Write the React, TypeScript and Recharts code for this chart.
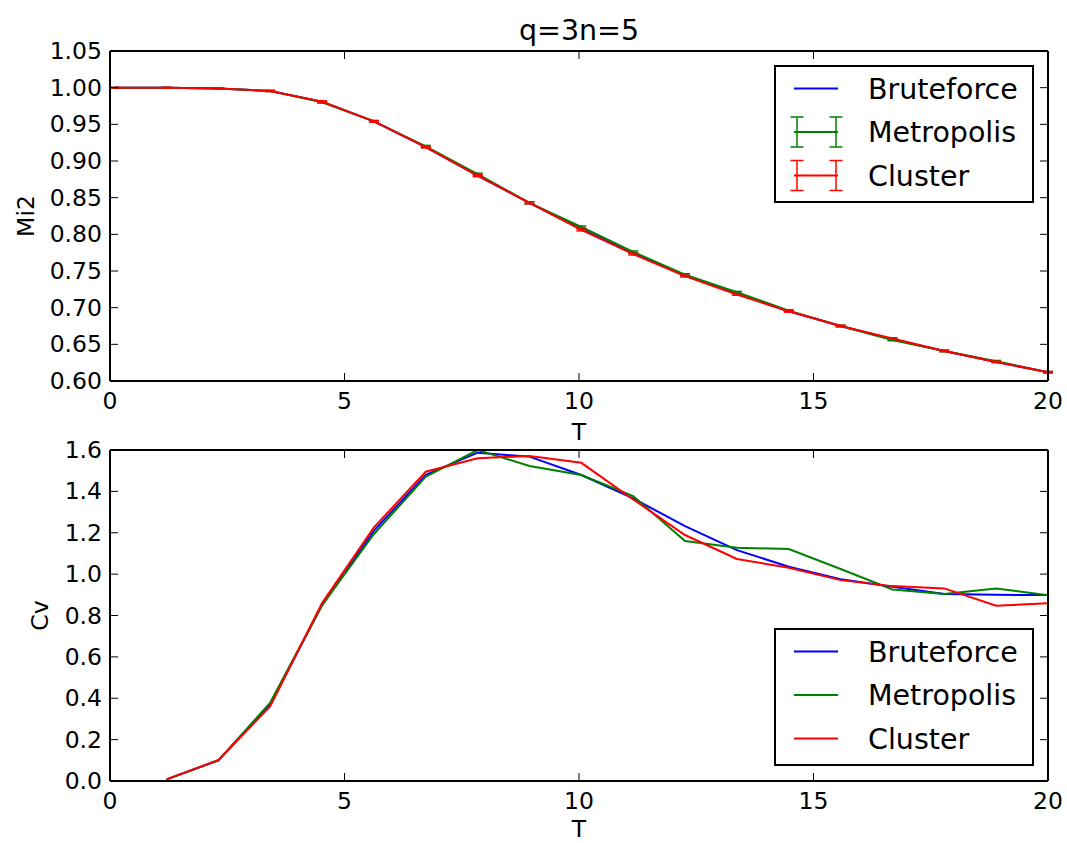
import { LineChart, Line, XAxis, YAxis, ErrorBar, Legend, Label } from "recharts";

const FONT = '"DejaVu Sans", sans-serif';

// temperature grid shared by both panels
const temperatures = [
  0.1, 1.206, 2.311, 3.417, 4.522, 5.628, 6.733, 7.839, 8.944, 10.05, 11.156, 12.261, 13.367, 14.472, 15.578,
  16.683, 17.789, 18.894, 20.0,
];

const mi2Bruteforce = [
  1.0, 1.0, 0.999, 0.9955, 0.981, 0.954, 0.919, 0.88, 0.843, 0.807, 0.774, 0.744, 0.719, 0.695, 0.675, 0.657,
  0.641, 0.626, 0.612,
];
const mi2Metropolis = [
  1.0, 1.0, 0.999, 0.9955, 0.98, 0.954, 0.92, 0.882, 0.843, 0.81, 0.776, 0.745, 0.721, 0.696, 0.675, 0.656,
  0.641, 0.627, 0.612,
];
const mi2MetropolisErr = [
  0.0003, 0.0004, 0.0006, 0.0008, 0.001, 0.0012, 0.0013, 0.0014, 0.0014, 0.0014, 0.0013, 0.0013, 0.0012, 0.0012,
  0.0011, 0.0011, 0.001, 0.001, 0.001,
];
const mi2Cluster = [
  1.0, 1.0, 0.999, 0.9955, 0.981, 0.954, 0.919, 0.88, 0.843, 0.806, 0.773, 0.743, 0.718, 0.695, 0.675, 0.658,
  0.641, 0.626, 0.612,
];
const mi2ClusterErr = [
  0.0003, 0.0004, 0.0006, 0.0008, 0.001, 0.0011, 0.0012, 0.0013, 0.0013, 0.0013, 0.0012, 0.0012, 0.0011, 0.0011,
  0.001, 0.001, 0.001, 0.0009, 0.0009,
];

const cvBruteforce = [
  null, 0.008, 0.1, 0.37, 0.85, 1.21, 1.48, 1.587, 1.568, 1.479, 1.366, 1.232, 1.116, 1.036, 0.975, 0.939, 0.904,
  0.9, 0.899,
];
const cvMetropolis = [
  null, 0.008, 0.1, 0.379, 0.85, 1.194, 1.471, 1.6, 1.523, 1.479, 1.377, 1.16, 1.128, 1.121, 1.025, 0.926, 0.904,
  0.931, 0.898,
];
const cvCluster = [
  null, 0.008, 0.101, 0.362, 0.86, 1.226, 1.495, 1.56, 1.571, 1.538, 1.361, 1.189, 1.073, 1.031, 0.971, 0.942,
  0.931, 0.847, 0.859,
];

const tTicks = [0, 5, 10, 15, 20];
const mi2Ticks = [0.6, 0.65, 0.7, 0.75, 0.8, 0.85, 0.9, 0.95, 1.0, 1.05];
const cvTicks = [0, 0.2, 0.4, 0.6, 0.8, 1.0, 1.2, 1.4, 1.6];

const seriesNames = ["Bruteforce", "Metropolis", "Cluster"];
const seriesColors = ["#0000ff", "#008000", "#ff0000"];

const mi2Rows = temperatures.map((T, i) => ({
  T,
  brute: mi2Bruteforce[i],
  metro: mi2Metropolis[i],
  metroErr: mi2MetropolisErr[i],
  cluster: mi2Cluster[i],
  clusterErr: mi2ClusterErr[i],
}));

const cvRows = temperatures.map((T, i) => ({
  T,
  brute: cvBruteforce[i],
  metro: cvMetropolis[i],
  cluster: cvCluster[i],
}));

// matplotlib-style ticks: marks point into the axes, labels sit outside
function BottomTick({ x, y, payload }: any) {
  return (
    <g>
      <line x1={x} x2={x} y1={y} y2={y - 8} stroke="#000" strokeWidth={1} />
      <text x={x} y={y + 28} textAnchor="middle" fontSize={23.5} fontFamily={FONT} fill="#000">
        {payload.value}
      </text>
    </g>
  );
}

function TopTick({ x, y }: any) {
  return <line x1={x} x2={x} y1={y} y2={y + 8} stroke="#000" strokeWidth={1} />;
}

function LeftTick({ x, y, payload, decimals }: any) {
  return (
    <g>
      <line x1={x} x2={x + 8} y1={y} y2={y} stroke="#000" strokeWidth={1} />
      <text x={x - 8} y={y + 8} textAnchor="end" fontSize={23.5} fontFamily={FONT} fill="#000">
        {Number(payload.value).toFixed(decimals)}
      </text>
    </g>
  );
}

function RightTick({ x, y }: any) {
  return <line x1={x} x2={x - 8} y1={y} y2={y} stroke="#000" strokeWidth={1} />;
}

const xTitle =
  (text: string, drop: number) =>
  ({ viewBox }: any) =>
    (
      <text
        x={viewBox.x + viewBox.width / 2}
        y={viewBox.y + drop}
        textAnchor="middle"
        fontSize={23.5}
        fontFamily={FONT}
        fill="#000"
      >
        {text}
      </text>
    );

const yTitle =
  (text: string, gap: number) =>
  ({ viewBox }: any) => {
    const bx = viewBox.x - gap;
    const cy = viewBox.y + viewBox.height / 2;
    return (
      <text
        x={bx}
        y={cy}
        transform={`rotate(-90, ${bx}, ${cy})`}
        textAnchor="middle"
        fontSize={23.5}
        fontFamily={FONT}
        fill="#000"
      >
        {text}
      </text>
    );
  };

const plotTitle =
  (text: string) =>
  ({ viewBox }: any) =>
    (
      <text
        x={viewBox.x + viewBox.width / 2}
        y={viewBox.y - 10}
        textAnchor="middle"
        fontSize={28.5}
        fontFamily={FONT}
        fill="#000"
      >
        {text}
      </text>
    );

function LegendBox({ errorbars }: { errorbars: boolean }) {
  return (
    <svg width={260} height={138} style={{ display: "block" }}>
      <rect x={1} y={1} width={258} height={136} fill="#fff" stroke="#000" strokeWidth={2} />
      {seriesNames.map((name, i) => {
        const cy = 23.5 + i * 43.5;
        const c = seriesColors[i];
        const withBars = errorbars && i > 0;
        return (
          <g key={name}>
            <line x1={20} x2={64} y1={cy} y2={cy} stroke={c} strokeWidth={2} />
            {withBars &&
              [23, 62].map((bx) => (
                <g key={bx} stroke={c} strokeWidth={1.5}>
                  <line x1={bx} x2={bx} y1={cy - 15} y2={cy + 15} />
                  <line x1={bx - 6.5} x2={bx + 6.5} y1={cy - 15} y2={cy - 15} />
                  <line x1={bx - 6.5} x2={bx + 6.5} y1={cy + 15} y2={cy + 15} />
                </g>
              ))}
            <text x={94} y={cy + 10} fontSize={28.5} fontFamily={FONT} fill="#000">
              {name}
            </text>
          </g>
        );
      })}
    </svg>
  );
}

const frame = { stroke: "#000", strokeWidth: 2 };

const lineProps = {
  strokeWidth: 2,
  dot: false,
  activeDot: false,
  isAnimationActive: false,
} as const;

export default function App() {
  return (
    <div
      style={{
        position: "absolute",
        left: 0,
        top: 0,
        width: 1067,
        height: 843,
        background: "#fff",
        fontFamily: FONT,
      }}
    >
      <div style={{ position: "absolute", left: 0, top: 0 }}>
        <LineChart width={1067} height={445} data={mi2Rows} margin={{ top: 50, right: 18, bottom: 34, left: 50 }}>
          <XAxis
            dataKey="T"
            type="number"
            domain={[0, 20]}
            ticks={tTicks}
            allowDataOverflow
            height={30}
            tickSize={0}
            tickMargin={0}
            tickLine={false}
            axisLine={frame}
            tick={<BottomTick />}
          >
            <Label content={xTitle("T", 59)} />
          </XAxis>
          <XAxis
            xAxisId="top"
            dataKey="T"
            orientation="top"
            type="number"
            domain={[0, 20]}
            ticks={tTicks}
            allowDataOverflow
            height={1}
            tickSize={0}
            tickMargin={0}
            tickLine={false}
            axisLine={frame}
            tick={<TopTick />}
          >
            <Label content={plotTitle("q=3n=5")} />
          </XAxis>
          <YAxis
            type="number"
            domain={[0.6, 1.05]}
            ticks={mi2Ticks}
            allowDataOverflow
            width={60}
            tickSize={0}
            tickMargin={0}
            tickLine={false}
            axisLine={frame}
            tick={<LeftTick decimals={2} />}
          >
            <Label content={yTitle("Mi2", 16)} />
          </YAxis>
          <YAxis
            yAxisId="right"
            dataKey="brute"
            orientation="right"
            type="number"
            domain={[0.6, 1.05]}
            ticks={mi2Ticks}
            allowDataOverflow
            width={1}
            tickSize={0}
            tickMargin={0}
            tickLine={false}
            axisLine={frame}
            tick={<RightTick />}
          />
          <Line dataKey="brute" name="Bruteforce" stroke={seriesColors[0]} {...lineProps} />
          <Line dataKey="metro" name="Metropolis" stroke={seriesColors[1]} {...lineProps}>
            <ErrorBar
              dataKey="metroErr"
              direction="y"
              width={5}
              stroke={seriesColors[1]}
              strokeWidth={1.5}
              isAnimationActive={false}
            />
          </Line>
          <Line dataKey="cluster" name="Cluster" stroke={seriesColors[2]} {...lineProps}>
            <ErrorBar
              dataKey="clusterErr"
              direction="y"
              width={5}
              stroke={seriesColors[2]}
              strokeWidth={1.5}
              isAnimationActive={false}
            />
          </Line>
          <Legend
            layout="horizontal"
            verticalAlign="middle"
            align="center"
            wrapperStyle={{ top: 65, left: 774, width: 260, height: 138 }}
            content={() => <LegendBox errorbars />}
          />
        </LineChart>
      </div>

      <div style={{ position: "absolute", left: 0, top: 430 }}>
        <LineChart width={1067} height={413} data={cvRows} margin={{ top: 19, right: 18, bottom: 32, left: 50 }}>
          <XAxis
            dataKey="T"
            type="number"
            domain={[0, 20]}
            ticks={tTicks}
            allowDataOverflow
            height={30}
            tickSize={0}
            tickMargin={0}
            tickLine={false}
            axisLine={frame}
            tick={<BottomTick />}
          >
            <Label content={xTitle("T", 56)} />
          </XAxis>
          <XAxis
            xAxisId="top"
            dataKey="T"
            orientation="top"
            type="number"
            domain={[0, 20]}
            ticks={tTicks}
            allowDataOverflow
            height={1}
            tickSize={0}
            tickMargin={0}
            tickLine={false}
            axisLine={frame}
            tick={<TopTick />}
          />
          <YAxis
            type="number"
            domain={[0, 1.6]}
            ticks={cvTicks}
            allowDataOverflow
            width={60}
            tickSize={0}
            tickMargin={0}
            tickLine={false}
            axisLine={frame}
            tick={<LeftTick decimals={1} />}
          >
            <Label content={yTitle("Cv", 2)} />
          </YAxis>
          <YAxis
            yAxisId="right"
            dataKey="brute"
            orientation="right"
            type="number"
            domain={[0, 1.6]}
            ticks={cvTicks}
            allowDataOverflow
            width={1}
            tickSize={0}
            tickMargin={0}
            tickLine={false}
            axisLine={frame}
            tick={<RightTick />}
          />
          <Line dataKey="brute" name="Bruteforce" stroke={seriesColors[0]} {...lineProps} />
          <Line dataKey="metro" name="Metropolis" stroke={seriesColors[1]} {...lineProps} />
          <Line dataKey="cluster" name="Cluster" stroke={seriesColors[2]} {...lineProps} />
          <Legend
            layout="horizontal"
            verticalAlign="middle"
            align="center"
            wrapperStyle={{ top: 198, left: 774, width: 260, height: 138 }}
            content={() => <LegendBox errorbars={false} />}
          />
        </LineChart>
      </div>
    </div>
  );
}
